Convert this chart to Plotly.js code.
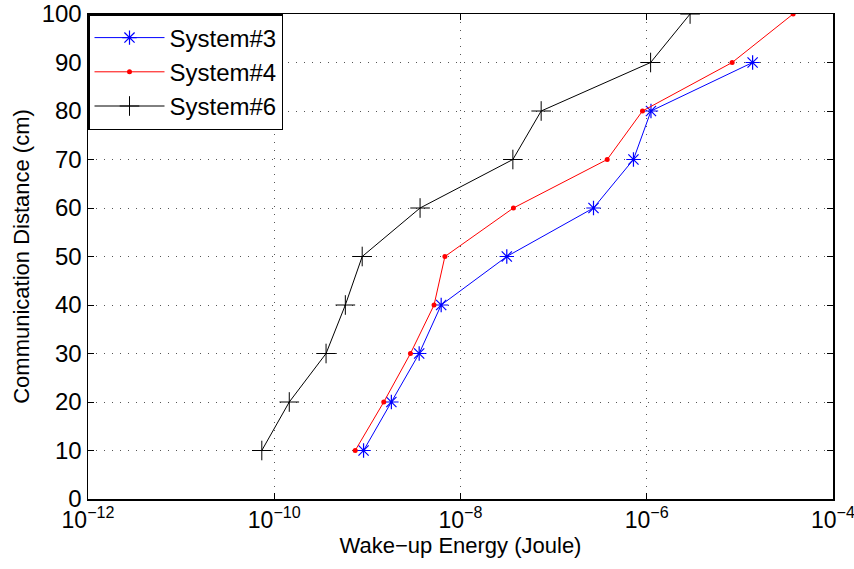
<!DOCTYPE html>
<html>
<head>
<meta charset="utf-8">
<script src="https://cdn.plot.ly/plotly-3.0.1.min.js"></script>
<style>html,body{margin:0;padding:0;background:#fff;}#chart{width:854px;height:569px;}</style>
</head>
<body>
<div id="chart"></div>
<script>
const distance = [10, 20, 30, 40, 50, 60, 70, 80, 90, 100];
const system3Energy = [9.1e-10, 1.81e-9, 3.6e-9, 6.2e-9, 3.14e-8, 2.68e-7, 7.2e-7, 1.11e-6, 1.37e-5];
const system4Energy = [7.4e-10, 1.5e-9, 2.9e-9, 5.2e-9, 6.8e-9, 3.7e-8, 3.76e-7, 9.0e-7, 8.26e-6, 3.73e-5];
const system6Energy = [7.35e-11, 1.45e-10, 3.6e-10, 5.8e-10, 8.8e-10, 3.68e-9, 3.65e-8, 7.35e-8, 1.1e-6, 2.92e-6];
const xTickVals = [1e-12, 1e-10, 1e-8, 1e-6, 1e-4];
const xTickText = ['10<sup>−12</sup>', '10<sup>−10</sup>', '10<sup>−8</sup>', '10<sup>−6</sup>', '10<sup>−4</sup>'];
const yTickVals = [0, 10, 20, 30, 40, 50, 60, 70, 80, 90, 100];

const font = 'Liberation Sans, Arial, sans-serif';
const traces = [
  {x: system3Energy, y: distance.slice(0, system3Energy.length), name: 'System#3', mode: 'lines+markers',
   line: {color: '#0000ff', width: 1}, marker: {symbol: 'asterisk-open', size: 12, color: '#0000ff', line: {color: '#0000ff', width: 1.2}}},
  {x: system4Energy, y: distance, name: 'System#4', mode: 'lines+markers',
   line: {color: '#ff0000', width: 1}, marker: {symbol: 'circle', size: 5, color: '#ff0000'}},
  {x: system6Energy, y: distance, name: 'System#6', mode: 'lines+markers',
   line: {color: '#000000', width: 1}, marker: {symbol: 'cross-thin-open', size: 14, color: '#000000', line: {color: '#000000', width: 1}}}
];
const layout = {
  width: 854, height: 569,
  margin: {l: 88, r: 21, t: 14, b: 70},
  paper_bgcolor: '#ffffff', plot_bgcolor: '#ffffff',
  font: {family: font, size: 22, color: '#000'},
  showlegend: true,
  legend: {x: 0, y: 1, xanchor: 'left', yanchor: 'top', bordercolor: '#000', borderwidth: 1.5,
           bgcolor: '#ffffff', font: {family: font, size: 24}, itemwidth: 70, tracegroupgap: 0},
  xaxis: {type: 'log', range: [-12, -4], tickvals: xTickVals, ticktext: xTickText, ticklabeloverflow: 'allow',
          showline: true, linecolor: '#000', linewidth: 1.5, mirror: 'ticks', ticks: 'inside', ticklen: 6, tickcolor: '#000',
          showgrid: true, gridcolor: '#555555', griddash: '1px,7px', gridwidth: 1, zeroline: false,
          tickfont: {family: font, size: 23},
          title: {text: 'Wake−up Energy (Joule)', font: {family: font, size: 22}, standoff: 3}},
  yaxis: {range: [0, 100], tickvals: yTickVals,
          showline: true, linecolor: '#000', linewidth: 1.5, mirror: 'ticks', ticks: 'inside', ticklen: 6, tickcolor: '#000',
          showgrid: true, gridcolor: '#555555', griddash: '1px,7px', gridwidth: 1, zeroline: false,
          tickfont: {family: font, size: 24},
          title: {text: 'Communication Distance (cm)', font: {family: font, size: 22}, standoff: 6}}
};
Plotly.newPlot('chart', traces, layout, {displayModeBar: false, staticPlot: true});
</script>
</body>
</html>
